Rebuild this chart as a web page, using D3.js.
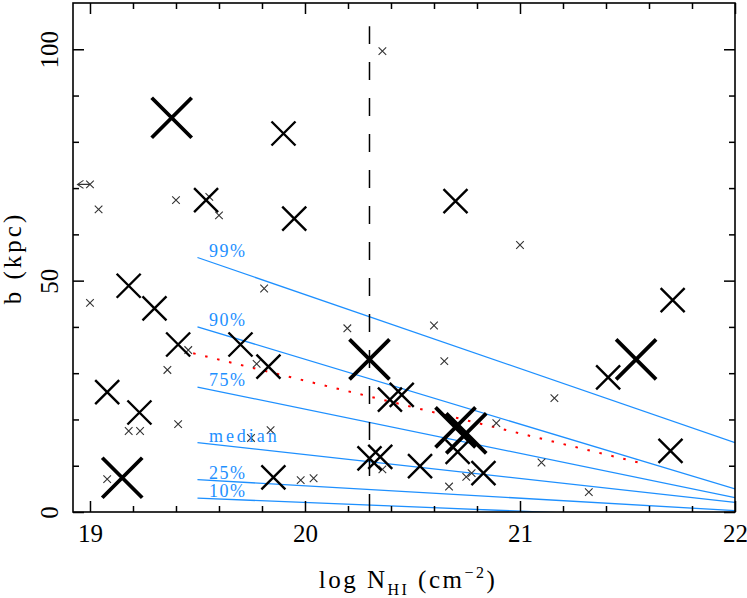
<!DOCTYPE html>
<html>
<head>
<meta charset="utf-8">
<script src="https://cdn.jsdelivr.net/npm/d3@7"></script>
<style>
    body { margin: 0; background: #fff; }
    svg { display: block; }
</style>
</head>
<body>
<div id="chart"></div>
<script>
// Absorbers, split by marker size (small / medium / large crosses)
const smallLogN = [19.00, 19.04, 19.40, 19.555, 19.60, 19.00, 19.457, 19.36, 19.18, 19.233,
    19.41, 19.08, 19.749, 20.36, 19.81, 20.197, 20.60, 20.648, 19.775, 20.89,
    19.84, 19.98, 20.04, 20.36, 20.67, 20.75, 20.775, 21.00, 21.16, 21.10, 21.32];
const smallB = [70.8, 65.4, 67.4, 68.1, 64.1, 45.2, 35.0, 30.7, 17.5, 17.5,
    19.0, 7.1, 16.0, 99.6, 48.3, 39.7, 40.3, 32.6, 32.0, 19.2,
    17.7, 6.9, 7.3, 9.2, 5.5, 7.6, 8.4, 57.7, 24.6, 10.7, 4.3];

const mediumLogN = [19.54, 19.18, 19.30, 19.41, 19.70, 19.08, 19.23, 19.90, 19.95, 20.70, 19.83,
    20.395, 20.45, 19.853, 20.30, 20.35, 20.535, 20.83, 20.71, 21.71, 21.41, 21.70];
const mediumB = [67.4, 48.9, 44.0, 36.2, 36.2, 25.9, 21.5, 81.8, 63.4, 67.2, 31.4,
    24.3, 25.3, 7.5, 11.6, 11.9, 9.9, 8.4, 13.0, 45.8, 29.1, 13.2];

const largeLogN = [19.38, 19.15, 20.30, 21.54, 20.70, 20.75];
const largeB = [85.2, 7.4, 33.0, 33.0, 18.3, 17.0];

// upper limit on N_HI (arrow pointing left)
const limitLogN = [19.00];
const limitB = [70.8];

// percentile curves, drawn from logN 19.5 to 22
const pctLabels = ["99%", "90%", "75%", "median", "25%", "10%"];
const pctLogN = [19.5, 22];
const pctStartB = [55, 40, 27, 15, 7, 3];
const pctEndB = [15, 5, 3.1, 2.1, 0.3, -1.7];

// red dotted fit
const fitLogN = [19.48, 21.56];
const fitB = [34.3, 10.6];

// vertical cut at the DLA threshold
const cutLogN = 20.3;
const cutB = [0, 105];

const xMajorTicks = [19, 20, 21, 22];
const yMajorTicks = [0, 50, 100];

const serif = "'Liberation Serif', 'Times New Roman', serif";
const blue = "#1e90ff";

const margin = {top: 3, right: 12, bottom: 86, left: 73},
    width = 747 - margin.left - margin.right,
    height = 598 - margin.top - margin.bottom;

const xScale = d3.scaleLinear().domain([18.921, 22]).range([0, width]);
const yScale = d3.scaleLinear().domain([0, 110]).range([height, 0]);

const svg = d3.select("#chart")
    .append("svg")
    .attr("width", width + margin.left + margin.right)
    .attr("height", height + margin.top + margin.bottom);

const chart = svg.append("g")
    .attr("transform", `translate(${margin.left},${margin.top})`);

chart.append("clipPath")
    .attr("id", "plot-clip")
    .append("rect")
    .attr("width", width)
    .attr("height", height);

const plot = chart.append("g").attr("clip-path", "url(#plot-clip)");

// Percentile lines
const pctData = pctLabels.map((label, i) => ({label, b0: pctStartB[i], b1: pctEndB[i]}));

plot.selectAll(".pct")
    .data(pctData)
    .enter().append("line")
    .attr("class", "pct")
    .attr("x1", xScale(pctLogN[0]))
    .attr("x2", xScale(pctLogN[1]))
    .attr("y1", d => yScale(d.b0))
    .attr("y2", d => yScale(d.b1))
    .attr("stroke", blue)
    .attr("stroke-width", 1.3);

chart.selectAll(".pct-label")
    .data(pctData)
    .enter().append("text")
    .attr("class", "pct-label")
    .attr("x", xScale(19.553))
    .attr("y", d => yScale(d.b0) - 1)
    .attr("fill", blue)
    .attr("font-family", serif)
    .attr("font-size", 18)
    .attr("letter-spacing", d => d.label === "median" ? 3 : 1.5)
    .text(d => d.label);

// Red dotted fit
plot.append("line")
    .attr("x1", xScale(fitLogN[0]))
    .attr("x2", xScale(fitLogN[1]))
    .attr("y1", yScale(fitB[0]))
    .attr("y2", yScale(fitB[1]))
    .attr("stroke", "#ff0000")
    .attr("stroke-width", 2)
    .attr("stroke-dasharray", "2.5,9.8");

// Dashed vertical line
plot.append("line")
    .attr("x1", xScale(cutLogN))
    .attr("x2", xScale(cutLogN))
    .attr("y1", yScale(cutB[0]))
    .attr("y2", yScale(cutB[1]))
    .attr("stroke", "#000")
    .attr("stroke-width", 1.5)
    .attr("stroke-dasharray", "18,18");

// Crosses
const crossPath = (d, h) => {
    const x = xScale(d.n), y = yScale(d.b);
    return `M${x - h},${y - h}L${x + h},${y + h}M${x - h},${y + h}L${x + h},${y - h}`;
};

const groups = [
    {n: smallLogN, b: smallB, half: 3.8, sw: 1.1, color: "#333"},
    {n: mediumLogN, b: mediumB, half: 12, sw: 2.4, color: "#000"},
    {n: largeLogN, b: largeB, half: 20, sw: 3.8, color: "#000"}
];

groups.forEach(g => {
    const pts = g.n.map((n, i) => ({n, b: g.b[i]}));
    plot.append("g").selectAll("path")
        .data(pts)
        .enter().append("path")
        .attr("d", d => crossPath(d, g.half))
        .attr("fill", "none")
        .attr("stroke", g.color)
        .attr("stroke-width", g.sw);
});

// Limit arrow
const limits = limitLogN.map((n, i) => ({n, b: limitB[i]}));
plot.append("g").selectAll("path")
    .data(limits)
    .enter().append("path")
    .attr("d", d => {
        const x = xScale(d.n), y = yScale(d.b), tip = x - 12.5;
        return `M${x},${y}L${tip},${y}M${tip + 6},${y - 4}L${tip},${y}L${tip + 6},${y + 4}`;
    })
    .attr("fill", "none")
    .attr("stroke", "#333")
    .attr("stroke-width", 1.1);

// Axes with inward ticks on all four sides
const xMinor = d3.range(19, 22.001, 0.2).map(v => +v.toFixed(1)).filter(v => !xMajorTicks.includes(v));
const yMinor = d3.range(10, 101, 10).filter(v => !yMajorTicks.includes(v));

const styleAxis = g => {
    g.select(".domain").remove();
    g.selectAll("line").attr("stroke-width", 1.5);
    g.attr("font-family", serif).attr("font-size", 25);
};

const bottom = chart.append("g")
    .attr("transform", `translate(0,${height})`)
    .call(d3.axisBottom(xScale).tickValues(xMajorTicks).tickSize(-11).tickFormat(d3.format("d")))
    .call(styleAxis);
bottom.selectAll("text").attr("y", 30).attr("dy", null).attr("fill", "#000");

chart.append("g")
    .attr("transform", `translate(0,${height})`)
    .call(d3.axisBottom(xScale).tickValues(xMinor).tickSize(-6).tickFormat(""))
    .call(styleAxis);

chart.append("g")
    .call(d3.axisTop(xScale).tickValues(xMajorTicks).tickSize(-11).tickFormat(""))
    .call(styleAxis);

chart.append("g")
    .call(d3.axisTop(xScale).tickValues(xMinor).tickSize(-6).tickFormat(""))
    .call(styleAxis);

const left = chart.append("g")
    .call(d3.axisLeft(yScale).tickValues(yMajorTicks).tickSize(-11).tickFormat(d3.format("d")))
    .call(styleAxis);
left.selectAll("text")
    .attr("x", null)
    .attr("dy", null)
    .attr("text-anchor", "middle")
    .attr("fill", "#000")
    .attr("transform", "translate(-15,0) rotate(-90)");

chart.append("g")
    .call(d3.axisLeft(yScale).tickValues(yMinor).tickSize(-6).tickFormat(""))
    .call(styleAxis);

chart.append("g")
    .attr("transform", `translate(${width},0)`)
    .call(d3.axisRight(yScale).tickValues(yMajorTicks).tickSize(-11).tickFormat(""))
    .call(styleAxis);

chart.append("g")
    .attr("transform", `translate(${width},0)`)
    .call(d3.axisRight(yScale).tickValues(yMinor).tickSize(-6).tickFormat(""))
    .call(styleAxis);

// Frame
chart.append("rect")
    .attr("width", width)
    .attr("height", height)
    .attr("fill", "none")
    .attr("stroke", "#000")
    .attr("stroke-width", 1.6);

// x axis label
const xLabel = svg.append("text")
    .attr("x", 408)
    .attr("y", 588)
    .attr("text-anchor", "middle")
    .attr("font-family", serif)
    .attr("font-size", 25)
    .attr("letter-spacing", 2.5);
xLabel.append("tspan").text("log N");
xLabel.append("tspan").attr("dy", 7).attr("font-size", 16).text("HI");
xLabel.append("tspan").attr("dy", -7).text(" (cm");
xLabel.append("tspan").attr("dy", -10).attr("font-size", 16).text("\u22122");
xLabel.append("tspan").attr("dy", 10).text(")");

// y axis label
svg.append("text")
    .attr("transform", "translate(21,258) rotate(-90)")
    .attr("text-anchor", "middle")
    .attr("font-family", serif)
    .attr("font-size", 25)
    .attr("letter-spacing", 3)
    .text("b (kpc)");
</script>
</body>
</html>
